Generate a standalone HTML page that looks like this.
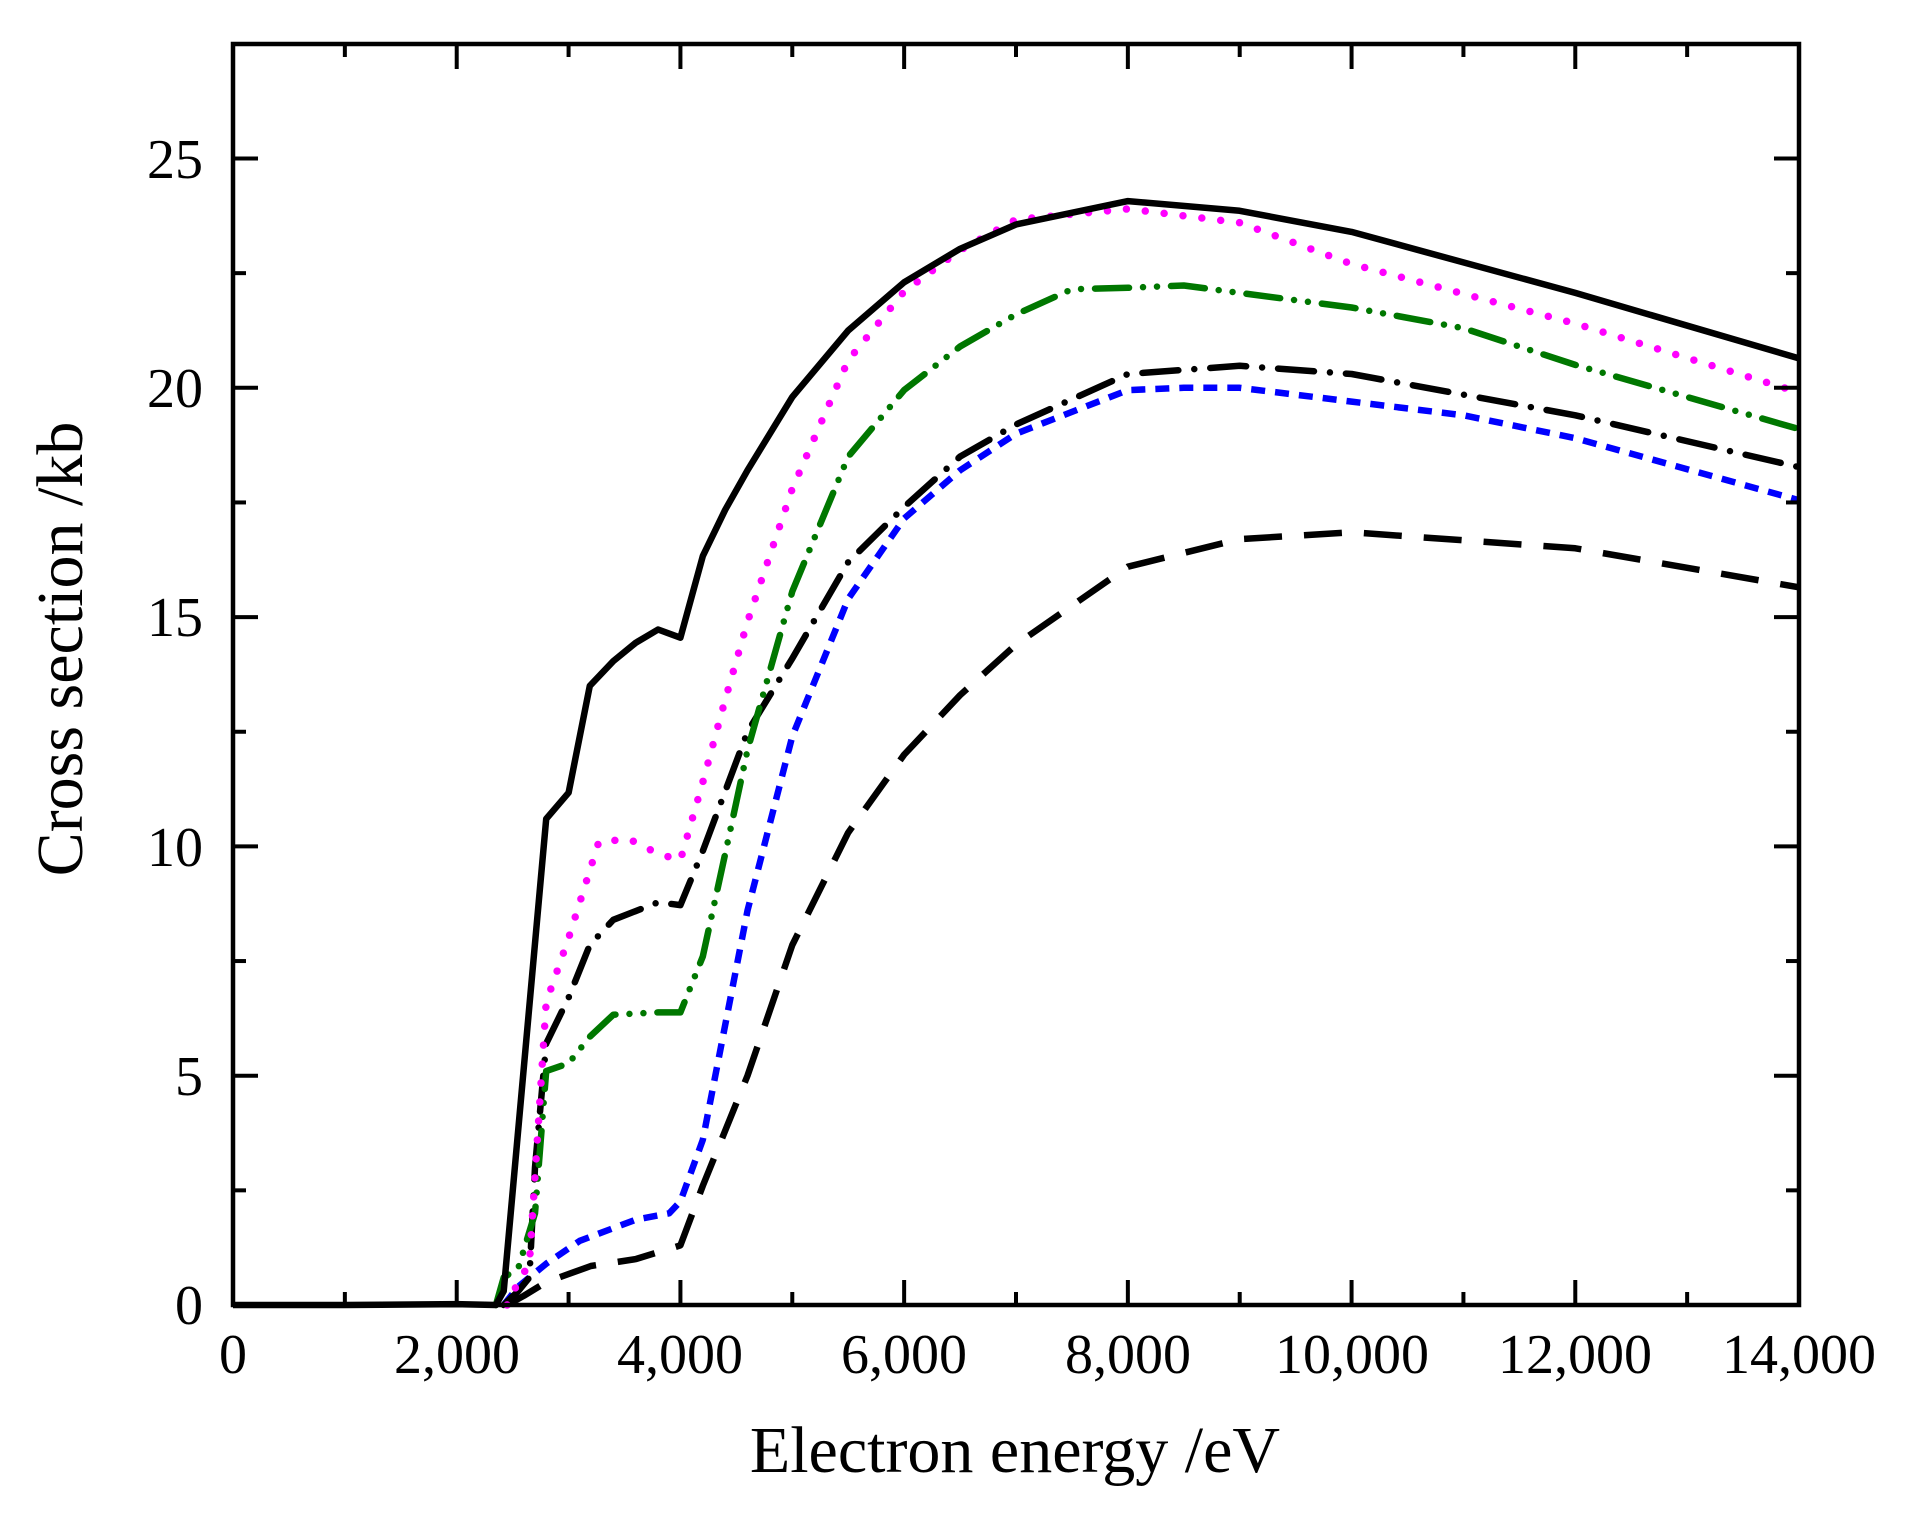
<!DOCTYPE html>
<html><head><meta charset="utf-8">
<style>
html,body{margin:0;padding:0;background:#fff;}
svg{display:block;}
text{font-family:"Liberation Serif",serif;fill:#000;}
</style></head>
<body>
<svg id="s" width="1913" height="1518" viewBox="0 0 1913 1518" xmlns="http://www.w3.org/2000/svg">
<g id="curves" fill="none" stroke-linejoin="round"></g>
<g id="ticks" stroke="#000" stroke-width="4"></g>
<rect x="233" y="44" width="1566" height="1261" fill="none" stroke="#000" stroke-width="4.5"/>
<g font-size="56" text-anchor="middle">
<text x="233" y="1373">0</text>
<text x="457" y="1373">2,000</text>
<text x="680" y="1373">4,000</text>
<text x="904" y="1373">6,000</text>
<text x="1128" y="1373">8,000</text>
<text x="1352" y="1373">10,000</text>
<text x="1575" y="1373">12,000</text>
<text x="1799" y="1373">14,000</text>
</g>
<g font-size="56" text-anchor="end">
<text x="203" y="1324">0</text>
<text x="203" y="1095">5</text>
<text x="203" y="866">10</text>
<text x="203" y="636">15</text>
<text x="203" y="407">20</text>
<text x="203" y="178">25</text>
</g>
<text x="1015" y="1472" font-size="66" text-anchor="middle">Electron energy /eV</text>
<text transform="translate(82,649) rotate(-90)" font-size="66" text-anchor="middle">Cross section /kb</text>
</svg>
<script>
var X=function(e){return 233+e*1566/14000;};
var Y=function(v){return 1305-v*45.86;};
var ns="http://www.w3.org/2000/svg";
function path(d,attrs){var p=document.createElementNS(ns,"path");p.setAttribute("d",d);for(var k in attrs)p.setAttribute(k,attrs[k]);document.getElementById("curves").appendChild(p);}
function poly(pts){return pts.map(function(p,i){return (i?"L":"M")+X(p[0]).toFixed(1)+","+Y(p[1]).toFixed(1);}).join("");}
var solid=[[0,0],[1000,0],[2000,0.02],[2350,0],[2420,0.3],[2800,10.6],[3000,11.17],[3190,13.5],[3400,14.04],[3600,14.44],[3800,14.73],[4000,14.55],[4200,16.33],[4400,17.34],[4600,18.2],[5000,19.8],[5500,21.25],[6000,22.3],[6500,23.03],[7000,23.56],[8000,24.07],[9000,23.86],[10000,23.4],[12000,22.07],[14000,20.64]];
var mag=[[2450,0],[2550,0.5],[2650,0.9],[2800,6.6],[3000,8.0],[3270,10.1],[3540,10.16],[3800,9.84],[4000,9.7],[4200,11.4],[4400,13.2],[4600,14.9],[5000,17.8],[5500,20.6],[6000,22.1],[6500,23.0],[7000,23.67],[8000,23.9],[9000,23.6],[10000,22.7],[12000,21.4],[14000,19.9]];
var green=[[2350,0],[2420,0.6],[2550,0.8],[2700,2.0],[2800,5.1],[3000,5.27],[3190,5.85],[3400,6.33],[3800,6.38],[4000,6.38],[4200,7.6],[4400,9.84],[4600,12.1],[5000,15.56],[5500,18.5],[6000,19.95],[6500,20.9],[7000,21.6],[7500,22.15],[8000,22.18],[8500,22.23],[9000,22.07],[10000,21.75],[11000,21.3],[12000,20.5],[14000,19.1]];
var dd=[[2420,0],[2550,0.3],[2650,0.6],[2700,3],[2800,5.7],[3000,6.7],[3190,7.85],[3400,8.4],[3800,8.78],[4000,8.72],[4200,9.9],[4600,12.5],[5000,14.1],[5500,16.2],[6000,17.4],[6500,18.5],[7000,19.2],[8000,20.3],[9000,20.48],[10000,20.3],[12000,19.4],[14000,18.27]];
var blue=[[2420,0],[2550,0.4],[2800,0.9],[3100,1.4],[3600,1.86],[3900,2.0],[4000,2.26],[4200,3.6],[4600,8.6],[5000,12.4],[5500,15.4],[6000,17.15],[6500,18.2],[7000,19.0],[8000,19.95],[8500,20.0],[9000,20.0],[10000,19.7],[11000,19.4],[12000,18.9],[14000,17.55]];
var ld=[[2450,0],[2600,0.2],[2800,0.5],[3200,0.85],[3600,1.0],[4000,1.3],[4200,2.6],[4600,5.0],[5000,7.85],[5500,10.3],[6000,12.0],[6500,13.3],[7000,14.4],[8000,16.1],[9000,16.7],[10000,16.85],[12000,16.5],[14000,15.65]];
path(poly(ld),{stroke:"#000","stroke-width":6.5,"stroke-dasharray":"38 22"});
path(poly(blue),{stroke:"#0000ff","stroke-width":6.5,"stroke-dasharray":"14 10"});
path(poly(dd),{stroke:"#000","stroke-width":6.5,"stroke-dasharray":"36 16 0 16","stroke-linecap":"round"});
path(poly(green),{stroke:"#007700","stroke-width":6.5,"stroke-dasharray":"34 14 0 14 0 14","stroke-linecap":"round"});
path(poly(mag),{stroke:"#ff00ff","stroke-width":7.5,"stroke-dasharray":"0 19","stroke-linecap":"round"});
path(poly(solid),{stroke:"#000","stroke-width":6.5});
var t=document.getElementById("ticks");
function line(x1,y1,x2,y2){var l=document.createElementNS(ns,"line");l.setAttribute("x1",x1);l.setAttribute("y1",y1);l.setAttribute("x2",x2);l.setAttribute("y2",y2);t.appendChild(l);}
for(var e=1000;e<14000;e+=1000){var L=(e%2000==0)?25:13;var x=X(e);line(x,1305,x,1305-L);line(x,44,x,44+L);}
for(var v=2.5;v<27.5;v+=2.5){var L=(Math.abs(v%5)<0.01)?25:13;var y=Y(v);line(233,y,233+L,y);line(1799,y,1799-L,y);}
</script>
</body></html>
